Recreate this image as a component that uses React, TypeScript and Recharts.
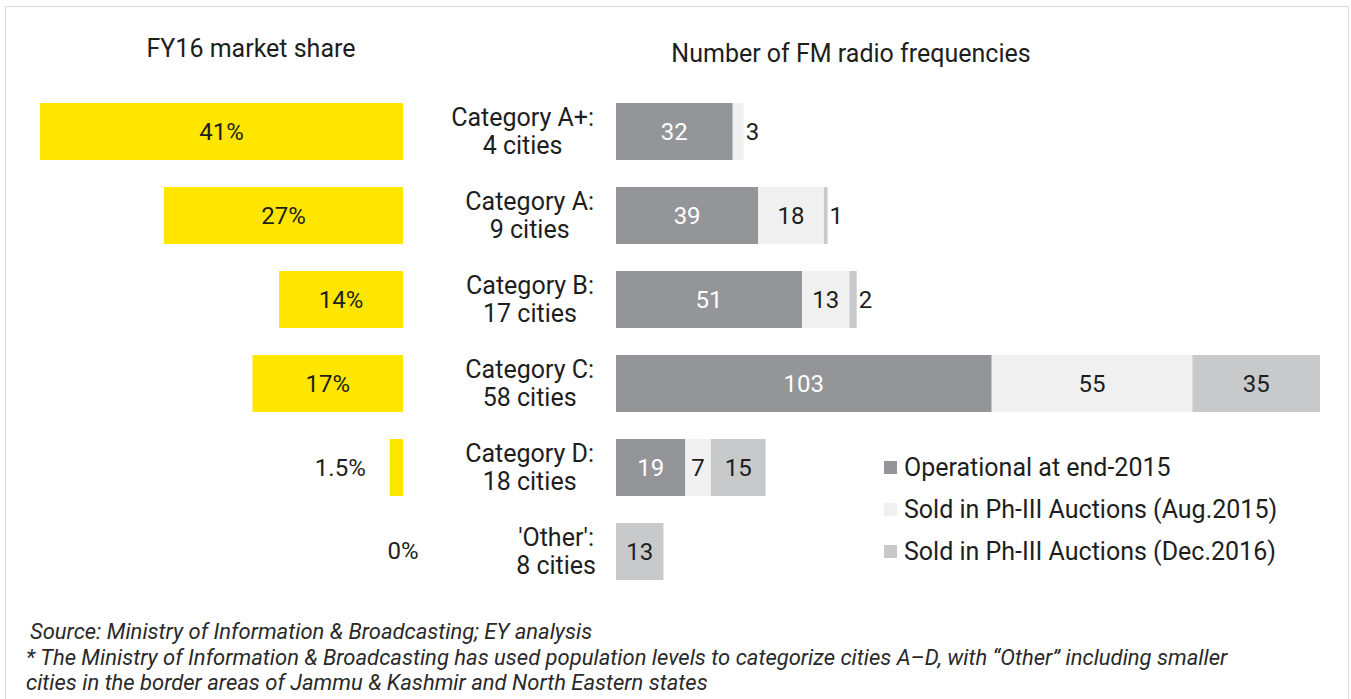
import React from "react";
import { Bar, BarChart, LabelList, XAxis, YAxis } from "recharts";

const categories = ["Category A+:", "Category A:", "Category B:", "Category C:", "Category D:", "'Other':"];
const cityCounts = ["4 cities", "9 cities", "17 cities", "58 cities", "18 cities", "8 cities"];
const marketShare = [41, 27, 14, 17, 1.5, 0];
const operational = [32, 39, 51, 103, 19, 0];
const soldAug2015 = [3, 18, 13, 55, 7, 0];
const soldDec2016 = [0, 1, 2, 35, 15, 13];
const seriesNames = [
  "Operational at end-2015",
  "Sold in Ph-III Auctions (Aug.2015)",
  "Sold in Ph-III Auctions (Dec.2016)",
];

const seriesColors = ["#939598", "#f0f0f0", "#c8c9cb"];
const yellow = "#ffe600";
const ink = "#1e1e1e";
const font = "Roboto, sans-serif";
const labelSize = 25;
const numSize = 24;

const shareData = categories.map((cat, i) => ({ cat, share: marketShare[i] }));
const freqData = categories.map((cat, i) => ({
  cat,
  operational: operational[i],
  aug: soldAug2015[i],
  dec: soldDec2016[i],
}));
const maxTotal = Math.max(...freqData.map((d) => d.operational + d.aug + d.dec));

let measureCtx: CanvasRenderingContext2D | null = null;
function textWidth(text: string, size: number) {
  if (!measureCtx) measureCtx = document.createElement("canvas").getContext("2d");
  if (!measureCtx) return text.length * size * 0.55;
  measureCtx.font = `${size}px Roboto`;
  return measureCtx.measureText(text).width;
}

function CategoryTick(props: any) {
  const { x, y, payload, index } = props;
  const first = String(payload.value);
  const w = textWidth(first, labelSize);
  return (
    <g>
      <text x={x} y={y - 14} textAnchor="end" dominantBaseline="central" fill={ink} fontSize={labelSize} fontFamily={font}>
        {first}
      </text>
      <text x={x - w / 2} y={y + 14} textAnchor="middle" dominantBaseline="central" fill={ink} fontSize={labelSize} fontFamily={font}>
        {cityCounts[index]}
      </text>
    </g>
  );
}

// zero-share rows have no bar to carry a label, so the axis at the zero edge draws them
function ZeroShareTick(props: any) {
  const { x, y, index } = props;
  if (marketShare[index] !== 0) return <g />;
  return (
    <text x={x} y={y} textAnchor="middle" dominantBaseline="central" fill={ink} fontSize={numSize} fontFamily={font}>
      {`${marketShare[index]}%`}
    </text>
  );
}

function ShareLabel(props: any) {
  const { x, y, width, height, value } = props;
  if (!value) return null;
  const left = Math.min(x, x + width);
  const w = Math.abs(width);
  const cy = y + height / 2;
  let tx = left + w / 2;
  let anchor: "middle" | "end" = "middle";
  if (value < 5) {
    tx = left - 24;
    anchor = "end";
  }
  return (
    <text x={tx} y={cy} textAnchor={anchor} dominantBaseline="central" fill={ink} fontSize={numSize} fontFamily={font}>
      {`${value}%`}
    </text>
  );
}

function segmentLabel(color: string) {
  return (props: any) => {
    const { x, y, width, height, value } = props;
    if (!value) return null;
    const cy = y + height / 2;
    if (value < 5) {
      return (
        <text x={x + width + 2} y={cy} textAnchor="start" dominantBaseline="central" fill={ink} fontSize={numSize} fontFamily={font}>
          {value}
        </text>
      );
    }
    return (
      <text x={x + width / 2} y={cy} textAnchor="middle" dominantBaseline="central" fill={color} fontSize={numSize} fontFamily={font}>
        {value}
      </text>
    );
  };
}

export default function App() {
  return (
    <div
      style={{
        position: "absolute",
        left: 0,
        top: 0,
        width: 1351,
        height: 699,
        overflow: "hidden",
        background: "#fff",
        fontFamily: font,
        color: ink,
      }}
    >
      <div
        style={{
          position: "absolute",
          left: 5,
          top: 6,
          width: 1342,
          height: 760,
          border: "1px solid #dcdcdc",
        }}
      />
      <div style={{ position: "absolute", left: 51, top: 36, width: 400, textAlign: "center", fontSize: labelSize, lineHeight: "26px" }}>
        FY16 market share
      </div>
      <div style={{ position: "absolute", left: 551, top: 41, width: 600, textAlign: "center", fontSize: labelSize, lineHeight: "26px" }}>
        Number of FM radio frequencies
      </div>

      <div style={{ position: "absolute", left: 0, top: 0 }}>
        <BarChart width={440} height={699} data={shareData} layout="vertical" margin={{ top: 89, bottom: 106, left: 40, right: 0 }}>
          <XAxis type="number" domain={[0, "dataMax"]} reversed hide />
          <YAxis
            type="category"
            dataKey="cat"
            orientation="right"
            width={37}
            axisLine={false}
            tickLine={false}
            tickSize={0}
            tickMargin={0}
            tick={<ZeroShareTick />}
          />
          <Bar dataKey="share" fill={yellow} barSize={57} isAnimationActive={false}>
            <LabelList dataKey="share" content={ShareLabel} />
          </Bar>
        </BarChart>
      </div>

      <div style={{ position: "absolute", left: 420, top: 0 }}>
        <BarChart width={931} height={699} data={freqData} layout="vertical" margin={{ top: 89, bottom: 106, left: 0, right: 31 }}>
          <XAxis type="number" domain={[0, maxTotal]} hide />
          <YAxis
            type="category"
            dataKey="cat"
            width={196}
            axisLine={false}
            tickLine={false}
            tickSize={0}
            tickMargin={22}
            tick={<CategoryTick />}
          />
          <Bar dataKey="operational" stackId="f" fill={seriesColors[0]} barSize={57} isAnimationActive={false}>
            <LabelList dataKey="operational" content={segmentLabel("#ffffff")} />
          </Bar>
          <Bar dataKey="aug" stackId="f" fill={seriesColors[1]} barSize={57} isAnimationActive={false}>
            <LabelList dataKey="aug" content={segmentLabel(ink)} />
          </Bar>
          <Bar dataKey="dec" stackId="f" fill={seriesColors[2]} barSize={57} isAnimationActive={false}>
            <LabelList dataKey="dec" content={segmentLabel(ink)} />
          </Bar>
        </BarChart>
      </div>

      <div style={{ position: "absolute", left: 884, top: 453 }}>
        {seriesNames.map((name, i) => (
          <div key={name} style={{ display: "flex", alignItems: "center", height: 28, marginBottom: 14, fontSize: labelSize }}>
            <span style={{ display: "inline-block", width: 13, height: 13, background: seriesColors[i], marginRight: 7 }} />
            {name}
          </div>
        ))}
      </div>

      <div style={{ position: "absolute", left: 26, top: 619, fontSize: 22, fontStyle: "italic", lineHeight: "25.5px", color: "#2a2a2a" }}>
        <div style={{ paddingLeft: 4 }}>Source: Ministry of Information &amp; Broadcasting; EY analysis</div>
        <div>
          * The Ministry of Information &amp; Broadcasting has used population levels to categorize cities A–D, with “Other” including smaller
        </div>
        <div>cities in the border areas of Jammu &amp; Kashmir and North Eastern states</div>
      </div>
    </div>
  );
}
